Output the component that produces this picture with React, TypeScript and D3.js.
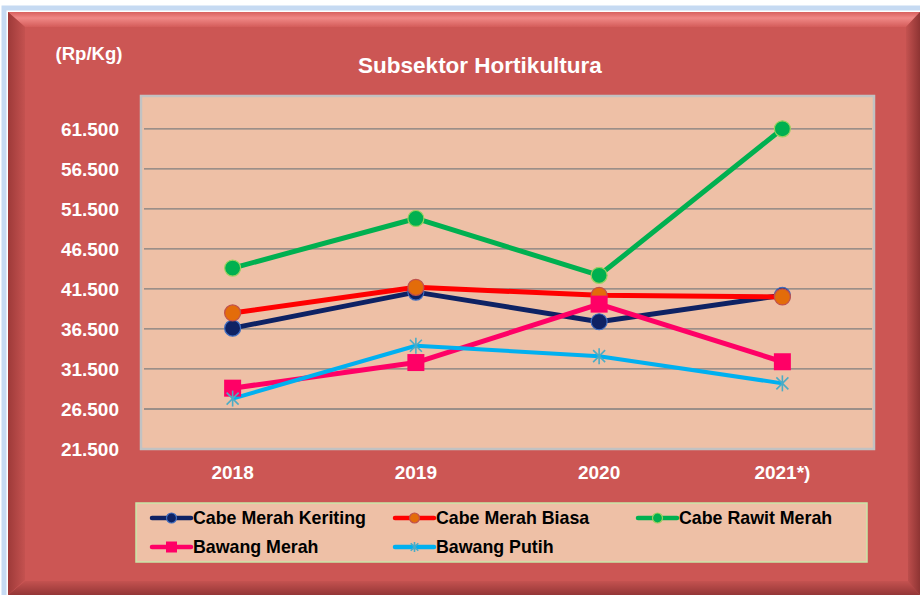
import React from "react";
import * as d3 from "d3";

const years = ["2018", "2019", "2020", "2021*)"];
const cabeMerahKeriting = [36600, 41100, 37400, 40700];
const cabeMerahBiasa = [38500, 41700, 40700, 40500];
const cabeRawitMerah = [44100, 50300, 43200, 61500];
const bawangMerah = [29100, 32300, 39600, 32400];
const bawangPutih = [27800, 34400, 33100, 29700];
const yTicks = [21500, 26500, 31500, 36500, 41500, 46500, 51500, 56500, 61500];

const series = [
  { name: "Cabe Merah Keriting", values: cabeMerahKeriting, color: "#0E2264", fill: "#0E2264", edge: "#3E6CC0", marker: "circle" },
  { name: "Cabe Merah Biasa", values: cabeMerahBiasa, color: "#FF0000", fill: "#E36C0A", edge: "#C0504D", marker: "circle" },
  { name: "Cabe Rawit Merah", values: cabeRawitMerah, color: "#00B050", fill: "#00B050", edge: "#9BD060", marker: "circle" },
  { name: "Bawang Merah", values: bawangMerah, color: "#FF0066", fill: "#FF0066", edge: "#FF0066", marker: "square" },
  { name: "Bawang Putih", values: bawangPutih, color: "#00B0F0", fill: "none", edge: "#4BACC6", marker: "star" },
];

const W = 920;
const H = 595;
const plot = { left: 141, top: 96, right: 874, bottom: 449 };
const FONT = "'Liberation Sans', Arial, sans-serif";

const idFmt = d3.formatLocale({ decimal: ",", thousands: ".", grouping: [3], currency: ["Rp", ""] }).format(",.0f");

function Marker({ type, x, y, s, fill, edge }: any) {
  if (type === "circle") {
    return <circle cx={x} cy={y} r={s} fill={fill} stroke={edge} strokeWidth={1.2} />;
  }
  if (type === "square") {
    return <rect x={x - s} y={y - s} width={2 * s} height={2 * s} fill={fill} />;
  }
  // asterisk
  const a = s * 0.75;
  return (
    <g stroke={edge} strokeWidth={1.6}>
      <line x1={x - a} y1={y - a} x2={x + a} y2={y + a} />
      <line x1={x - a} y1={y + a} x2={x + a} y2={y - a} />
      <line x1={x} y1={y - s} x2={x} y2={y + s} />
    </g>
  );
}

export default function App() {
  const x = d3.scalePoint<string>().domain(years).range([plot.left, plot.right]).padding(0.5);
  const y = d3.scaleLinear().domain([21500, 65600]).range([plot.bottom, plot.top]);
  const line = d3
    .line<number>()
    .x((d, i) => x(years[i]) as number)
    .y((d) => y(d));

  // legend layout
  const legendCols = [152, 395, 638];
  const legendRows = [518, 547];

  return (
    <svg width={W} height={H} style={{ position: "absolute", left: 0, top: 0 }} fontFamily={FONT}>
      <defs>
        <linearGradient id="topBevel" x1="0" y1="0" x2="0" y2="1">
          <stop offset="0" stopColor="#D8605E" />
          <stop offset="0.4" stopColor="#F08886" />
          <stop offset="1" stopColor="#D45C5A" />
        </linearGradient>
        <linearGradient id="leftBevel" x1="0" y1="0" x2="1" y2="0">
          <stop offset="0" stopColor="#9E3A39" />
          <stop offset="1" stopColor="#C45250" />
        </linearGradient>
        <linearGradient id="rightBevel" x1="0" y1="0" x2="1" y2="0">
          <stop offset="0" stopColor="#C45250" />
          <stop offset="1" stopColor="#8E3433" />
        </linearGradient>
        <linearGradient id="bottomBevel" x1="0" y1="0" x2="0" y2="1">
          <stop offset="0" stopColor="#C45250" />
          <stop offset="1" stopColor="#943636" />
        </linearGradient>
      </defs>

      <rect x={0} y={0} width={W} height={H} fill="#FFFFFF" />
      {/* soft blue glow round the frame */}
      <rect x={4} y={8} width={W} height={H} fill="none" stroke="#C6DAF2" strokeWidth={5} />

      {/* frame with bevel */}
      <rect x={8} y={12} width={912} height={583} fill="#CC5654" />
      <polygon points="8,12 920,12 906,27 25,27" fill="url(#topBevel)" />
      <polygon points="8,12 25,27 25,580 8,595" fill="url(#leftBevel)" />
      <polygon points="920,12 920,595 908,582 906,27" fill="url(#rightBevel)" />
      <polygon points="25,581 908,581 920,595 8,595" fill="url(#bottomBevel)" />

      {/* plot area */}
      <rect
        x={plot.left}
        y={plot.top}
        width={plot.right - plot.left}
        height={plot.bottom - plot.top}
        fill="#EEC0A6"
        stroke="#C2C2C2"
        strokeWidth={2.5}
      />
      {yTicks.slice(1).map((t) => (
        <line key={t} x1={plot.left + 3} x2={plot.right - 2} y1={y(t)} y2={y(t)} stroke="#7F7F7F" strokeWidth={1.3} />
      ))}

      {/* titles */}
      <text x={89} y={60} textAnchor="middle" fontSize={18.5} fontWeight="bold" fill="#FFFFFF">
        (Rp/Kg)
      </text>
      <text x={480} y={73} textAnchor="middle" fontSize={22.5} fontWeight="bold" fill="#FFFFFF">
        Subsektor Hortikultura
      </text>

      {/* y axis labels */}
      {yTicks.map((t) => (
        <text key={t} x={119} y={y(t)} dy="0.36em" textAnchor="end" fontSize={19} fontWeight="bold" fill="#FFFFFF">
          {idFmt(t)}
        </text>
      ))}

      {/* x axis labels */}
      {years.map((yr) => (
        <text key={yr} x={x(yr)} y={479} textAnchor="middle" fontSize={19} fontWeight="bold" fill="#FFFFFF">
          {yr}
        </text>
      ))}

      {/* lines */}
      {series.map((s) => (
        <path
          key={s.name}
          d={line(s.values) as string}
          fill="none"
          stroke={s.color}
          strokeWidth={s.marker === "star" ? 4 : 5}
          strokeLinejoin="round"
        />
      ))}
      {/* markers */}
      {series.map((s) =>
        s.values.map((v, i) => (
          <Marker
            key={s.name + i}
            type={s.marker}
            x={x(years[i])}
            y={y(v)}
            s={s.marker === "square" ? 8.5 : 8}
            fill={s.fill}
            edge={s.edge}
          />
        ))
      )}

      {/* legend */}
      <rect x={136} y={503} width={731} height={59} fill="#EEC0A6" stroke="#C8E6A8" strokeWidth={1.5} />
      {series.map((s, i) => {
        const lx = legendCols[i % 3];
        const ly = legendRows[Math.floor(i / 3)];
        return (
          <g key={s.name}>
            <line x1={lx} x2={lx + 39} y1={ly} y2={ly} stroke={s.color} strokeWidth={4.5} strokeLinecap="round" />
            <Marker type={s.marker} x={lx + 19.5} y={ly} s={s.marker === "square" ? 5.5 : 5} fill={s.fill} edge={s.edge} />
            <text x={lx + 41} y={ly} dy="0.36em" fontSize={17.8} fontWeight="bold" fill="#000000">
              {s.name}
            </text>
          </g>
        );
      })}
    </svg>
  );
}
